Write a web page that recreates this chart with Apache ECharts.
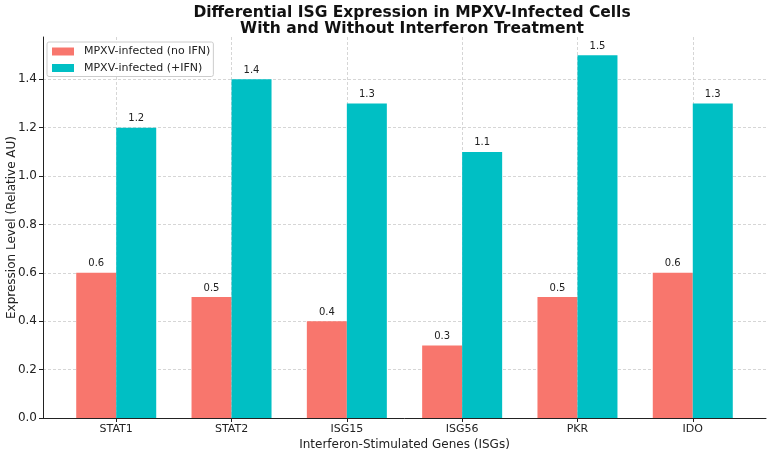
<!DOCTYPE html>
<html>
<head>
<meta charset="utf-8">
<script src="https://cdn.jsdelivr.net/npm/echarts@6/dist/echarts.min.js"></script>
<style>
  html, body { margin: 0; padding: 0; background: #fff; }
  #chart { width: 768px; height: 452px; }
</style>
</head>
<body>
<div id="chart"></div>
<script>
  // data
  const genes = ['STAT1', 'STAT2', 'ISG15', 'ISG56', 'PKR', 'IDO'];
  const noIfn = [0.6, 0.5, 0.4, 0.3, 0.5, 0.6];
  const withIfn = [1.2, 1.4, 1.3, 1.1, 1.5, 1.3];
  const yTicks = [0, 0.2, 0.4, 0.6, 0.8, 1.0, 1.2, 1.4];
  const xTicks = [0, 1, 2, 3, 4, 5];

  const font = 'DejaVu Sans';
  const chart = echarts.init(document.getElementById('chart'));

  const toPoints = arr => arr.map((v, i) => [i, v]);
  const gridLine = { show: true, lineStyle: { color: '#cccccc', type: [3, 2], width: 0.8 } };

  const option = {
    animation: false,
    title: {
      text: 'Differential ISG Expression in MPXV-Infected Cells\nWith and Without Interferon Treatment',
      left: 407,
      textAlign: 'center',
      top: 0,
      textStyle: { fontFamily: font, fontSize: 15.5, fontWeight: 'bold', color: '#111', lineHeight: 16 }
    },
    legend: {
      left: 47,
      top: 42,
      orient: 'vertical',
      icon: 'rect',
      itemWidth: 22,
      itemHeight: 8,
      itemGap: 5.5,
      padding: [4, 3, 3, 5],
      borderColor: '#cccccc',
      borderWidth: 1,
      borderRadius: 2,
      backgroundColor: 'rgba(255,255,255,0.85)',
      textStyle: { fontFamily: font, fontSize: 11, color: '#222', padding: [0, 0, 0, 5] },
      data: ['MPXV-infected (no IFN)', 'MPXV-infected (+IFN)']
    },
    grid: { left: 43, right: 2, top: 37, bottom: 34, outerBoundsMode: 'none' },
    xAxis: {
      type: 'value',
      min: -0.635,
      max: 5.635,
      name: 'Interferon-Stimulated Genes (ISGs)',
      nameLocation: 'middle',
      nameGap: 21,
      nameMoveOverlap: false,
      nameTextStyle: { fontFamily: font, fontSize: 12, color: '#222' },
      axisLine: { show: true, onZero: false, lineStyle: { color: '#222', width: 1 } },
      axisTick: { show: true, customValues: xTicks, length: 4, lineStyle: { color: '#222' } },
      axisLabel: {
        customValues: xTicks,
        formatter: v => genes[Math.round(v)] || '',
        fontFamily: font, fontSize: 11, color: '#222', margin: 6
      },
      splitLine: gridLine
    },
    yAxis: {
      type: 'value',
      min: 0,
      max: 1.575,
      name: 'Expression Level (Relative AU)',
      nameLocation: 'middle',
      nameGap: 25,
      nameMoveOverlap: false,
      nameTextStyle: { fontFamily: font, fontSize: 12, color: '#222' },
      axisLine: { show: true, onZero: false, lineStyle: { color: '#222', width: 1 } },
      axisTick: { show: true, customValues: yTicks, length: 4, lineStyle: { color: '#222' } },
      axisLabel: {
        customValues: yTicks,
        formatter: v => v.toFixed(1),
        fontFamily: font, fontSize: 12, color: '#222', margin: 6
      },
      splitLine: gridLine
    },
    series: [
      {
        name: 'MPXV-infected (no IFN)',
        type: 'bar',
        barWidth: 40,
        barGap: '0%',
        itemStyle: { color: '#F8766D' },
        label: { show: true, position: 'top', distance: 4, fontFamily: font, fontSize: 10, color: '#222' },
        data: toPoints(noIfn)
      },
      {
        name: 'MPXV-infected (+IFN)',
        type: 'bar',
        barWidth: 40,
        barGap: '0%',
        itemStyle: { color: '#00BFC4' },
        label: { show: true, position: 'top', distance: 4, fontFamily: font, fontSize: 10, color: '#222' },
        data: toPoints(withIfn)
      }
    ]
  };

  option.series.forEach(s => {
    s.label.formatter = p => p.value[1].toFixed(1);
  });

  chart.setOption(option);
</script>
</body>
</html>
